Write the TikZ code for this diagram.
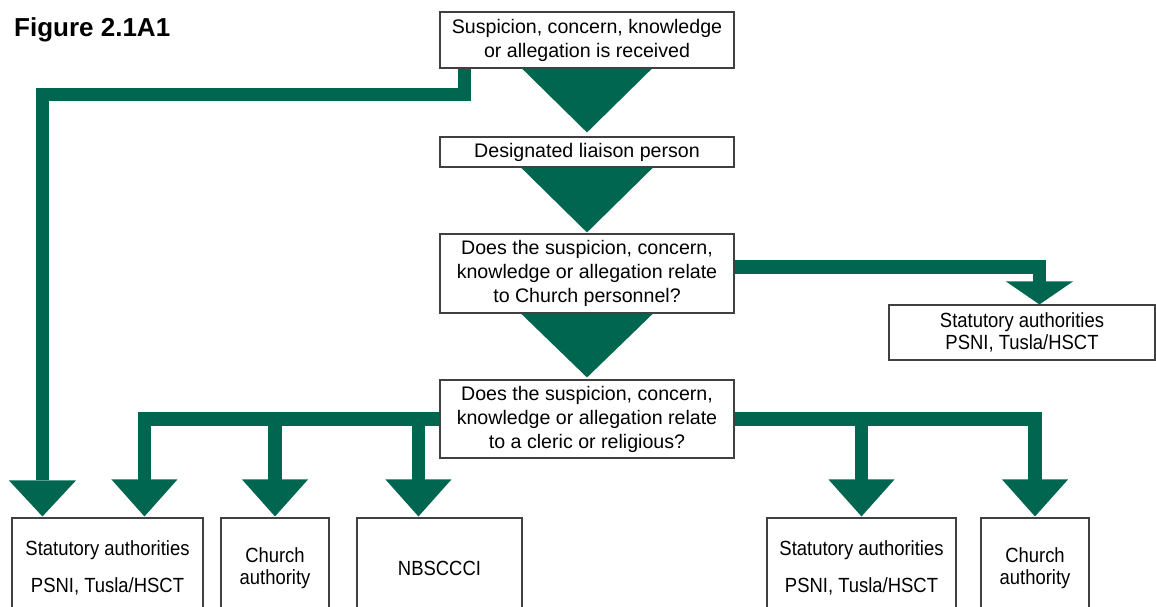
\documentclass[tikz,border=0pt]{standalone}
\usepackage{fontspec}
\setmainfont{Liberation Sans}
\newfontfamily\narrowfont[FakeStretch=0.9]{Liberation Sans}
\usetikzlibrary{calc}
\definecolor{grn}{HTML}{00664F}
\definecolor{edge}{HTML}{404040}
\newcommand\headat[3]{\fill[grn] (#1) -- ++(-#2,-#3) -- ++(2*#2,0) -- cycle;}
\begin{document}
\begin{tikzpicture}[x=1pt,y=-1pt,
  box/.style={draw=edge, line width=1.1pt, fill=white, align=center, inner sep=0pt, font=\fontsize{19.6}{24}\selectfont},
  sbox/.style={box, font=\narrowfont\fontsize{20.5}{22.5}\selectfont},
  shaft/.style={draw=grn, line width=13.5pt, line join=miter},
  titlestyle/.style={anchor=west, inner sep=0pt, font=\fontsize{26}{30}\selectfont\bfseries}]
\useasboundingbox (0,0) rectangle (1156,606);
\fill[white] (0,0) rectangle (1156,606);
\clip (0,0) rectangle (1156,606);

\node[titlestyle] (title) at (14,30) {Figure 2.1A1};

\node[box, minimum width=294pt, minimum height=56pt] (b1) at (587,40) {Suspicion, concern, knowledge\\or allegation is received};
\node[box, minimum width=294pt, minimum height=30pt] (b2) at (587,152) {Designated liaison person};
\node[box, minimum width=294pt, minimum height=79pt] (b3) at (587,273.5) {Does the suspicion, concern,\\knowledge or allegation relate\\to Church personnel?};
\node[box, minimum width=294pt, minimum height=78pt] (b4) at (587,419) {Does the suspicion, concern,\\knowledge or allegation relate\\to a cleric or religious?};

\node[sbox, minimum width=266pt, minimum height=55pt] (r1) at (1022,332.5) {Statutory authorities\\PSNI, Tusla/HSCT};

\node[sbox, minimum width=191pt, minimum height=100pt] (s1) at (107.5,568) {Statutory authorities\\[14.5pt]PSNI, Tusla/HSCT};
\node[sbox, minimum width=108pt, minimum height=100pt] (c1) at (275,568) {Church\\authority};
\node[sbox, minimum width=165pt, minimum height=100pt] (n1) at (439.5,568) {NBSCCCI};
\node[sbox, minimum width=189pt, minimum height=100pt] (s2) at (861.5,568) {Statutory authorities\\[14.5pt]PSNI, Tusla/HSCT};
\node[sbox, minimum width=108pt, minimum height=100pt] (c2) at (1035,568) {Church\\authority};

% apex coordinates
\coordinate (aL) at ($(s1.north west)+(31,-1)$);
\coordinate (a1) at ($(s1.north west)+(133,-1)$);
\coordinate (a2) at ($(c1.north)+(0,-1)$);
\coordinate (a3) at ($(n1.north west)+(62,-1)$);
\coordinate (a4) at ($(s2.north)+(0,-1)$);
\coordinate (a5) at ($(c2.north)+(0,-1)$);
\coordinate (aR) at ($(r1.north west)+(151,0)$);

% main triangles
\fill[grn] ($(b1.south)+(-65,0)$) -- ($(b1.south)+(65,0)$) -- ($(b2.north)+(0,-4)$) -- cycle;
\fill[grn] ($(b2.south)+(-66,0)$) -- ($(b2.south)+(66,0)$) -- ($(b3.north)+(0,-1)$) -- cycle;
\fill[grn] ($(b3.south)+(-66,0)$) -- ($(b3.south)+(66,0)$) -- ($(b4.north)+(0,-2)$) -- cycle;

% left branch from first box
\draw[shaft] ($(b1.south west)+(25,0)$) -- ++(0,26) -| ($(aL)+(0,-36)$);
\headat{aL}{33.5}{36}

% right branch from third box
\draw[shaft] ($(b3.east)+(0,-6.5)$) -| ($(aR)+(0,-22)$);
\headat{aR}{33.5}{23}

% branches from fourth box
\draw[shaft] (b4.west) -| ($(a1)+(0,-36)$);
\draw[shaft] (b4.west -| a2) -- ($(a2)+(0,-36)$);
\draw[shaft] (b4.west -| a3) -- ($(a3)+(0,-36)$);
\draw[shaft] (b4.east) -| ($(a5)+(0,-36)$);
\draw[shaft] (b4.east -| a4) -- ($(a4)+(0,-36)$);
\headat{a1}{33}{37}
\headat{a2}{33}{37}
\headat{a3}{33}{37}
\headat{a4}{33}{37}
\headat{a5}{33}{37}
\end{tikzpicture}
\end{document}
